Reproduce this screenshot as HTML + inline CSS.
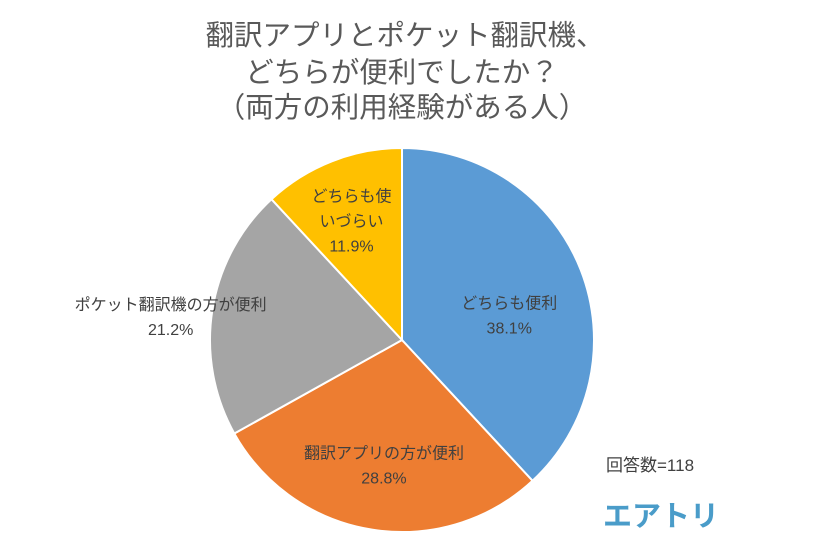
<!DOCTYPE html>
<html><head><meta charset="utf-8"><style>
body{margin:0;background:#fff;width:826px;height:543px;overflow:hidden;font-family:"Liberation Sans","Noto Sans CJK JP",sans-serif}
</style></head><body>
<svg width="826" height="543">
<g fill="#595959" font-size="28.5" text-anchor="middle">
<text x="405" y="45">翻訳アプリとポケット翻訳機、</text>
<text x="402" y="82">どちらが便利でしたか？</text>
<text x="402" y="117">（両方の利用経験がある人）</text>
</g>
<g id="slices"></g>
<g id="labels" font-size="16" fill="#404040" text-anchor="middle"></g>
<text x="606" y="471" font-size="17" fill="#404040">回答数=118</text>
<text x="603" y="526" font-size="29" font-weight="bold" fill="#4a9cc9">エアトリ</text>
</svg>
<script>
const categories=["どちらも便利","翻訳アプリの方が便利","ポケット翻訳機の方が便利","どちらも使いづらい"];
const values=[38.1,28.8,21.2,11.9];
const colors=["#5b9bd5","#ed7d31","#a5a5a5","#ffc000"];
const labelLines=[["どちらも便利","38.1%"],["翻訳アプリの方が便利","28.8%"],["ポケット翻訳機の方が便利","21.2%"],["どちらも使","いづらい","11.9%"]];
const labelDy=[17,11,13,9];
const cx=402,cy=340,r=192,ns="http://www.w3.org/2000/svg";
const total=values.reduce((a,b)=>a+b,0);
const sg=document.getElementById('slices'),lg=document.getElementById('labels');
let a0=-Math.PI/2;
values.forEach((v,i)=>{
 const a1=a0+v/total*2*Math.PI;
 const x0=cx+r*Math.cos(a0),y0=cy+r*Math.sin(a0),x1=cx+r*Math.cos(a1),y1=cy+r*Math.sin(a1);
 const p=document.createElementNS(ns,'path');
 p.setAttribute('d',`M${cx},${cy}L${x0},${y0}A${r},${r} 0 ${a1-a0>Math.PI?1:0} 1 ${x1},${y1}Z`);
 p.setAttribute('fill',colors[i]);p.setAttribute('stroke','#fff');p.setAttribute('stroke-width','2');
 
 
 sg.appendChild(p);
 const am=(a0+a1)/2;
 const outside=v>20&&v<25;
 const rr=outside?r*1.22:(v<15?r*0.72:r*0.6);
 const lx=cx+rr*Math.cos(am),ly=cy+rr*Math.sin(am)+labelDy[i];
 const t=document.createElementNS(ns,'text');
 
 
 const lines=labelLines[i],lh=25;
 lines.forEach((s,k)=>{const ts=document.createElementNS(ns,'tspan');ts.setAttribute('x',lx);ts.setAttribute('y',ly+(k-(lines.length-1)/2)*lh+6);ts.textContent=s;t.appendChild(ts);});
 lg.appendChild(t);
 a0=a1;
});
</script>
</body></html>
